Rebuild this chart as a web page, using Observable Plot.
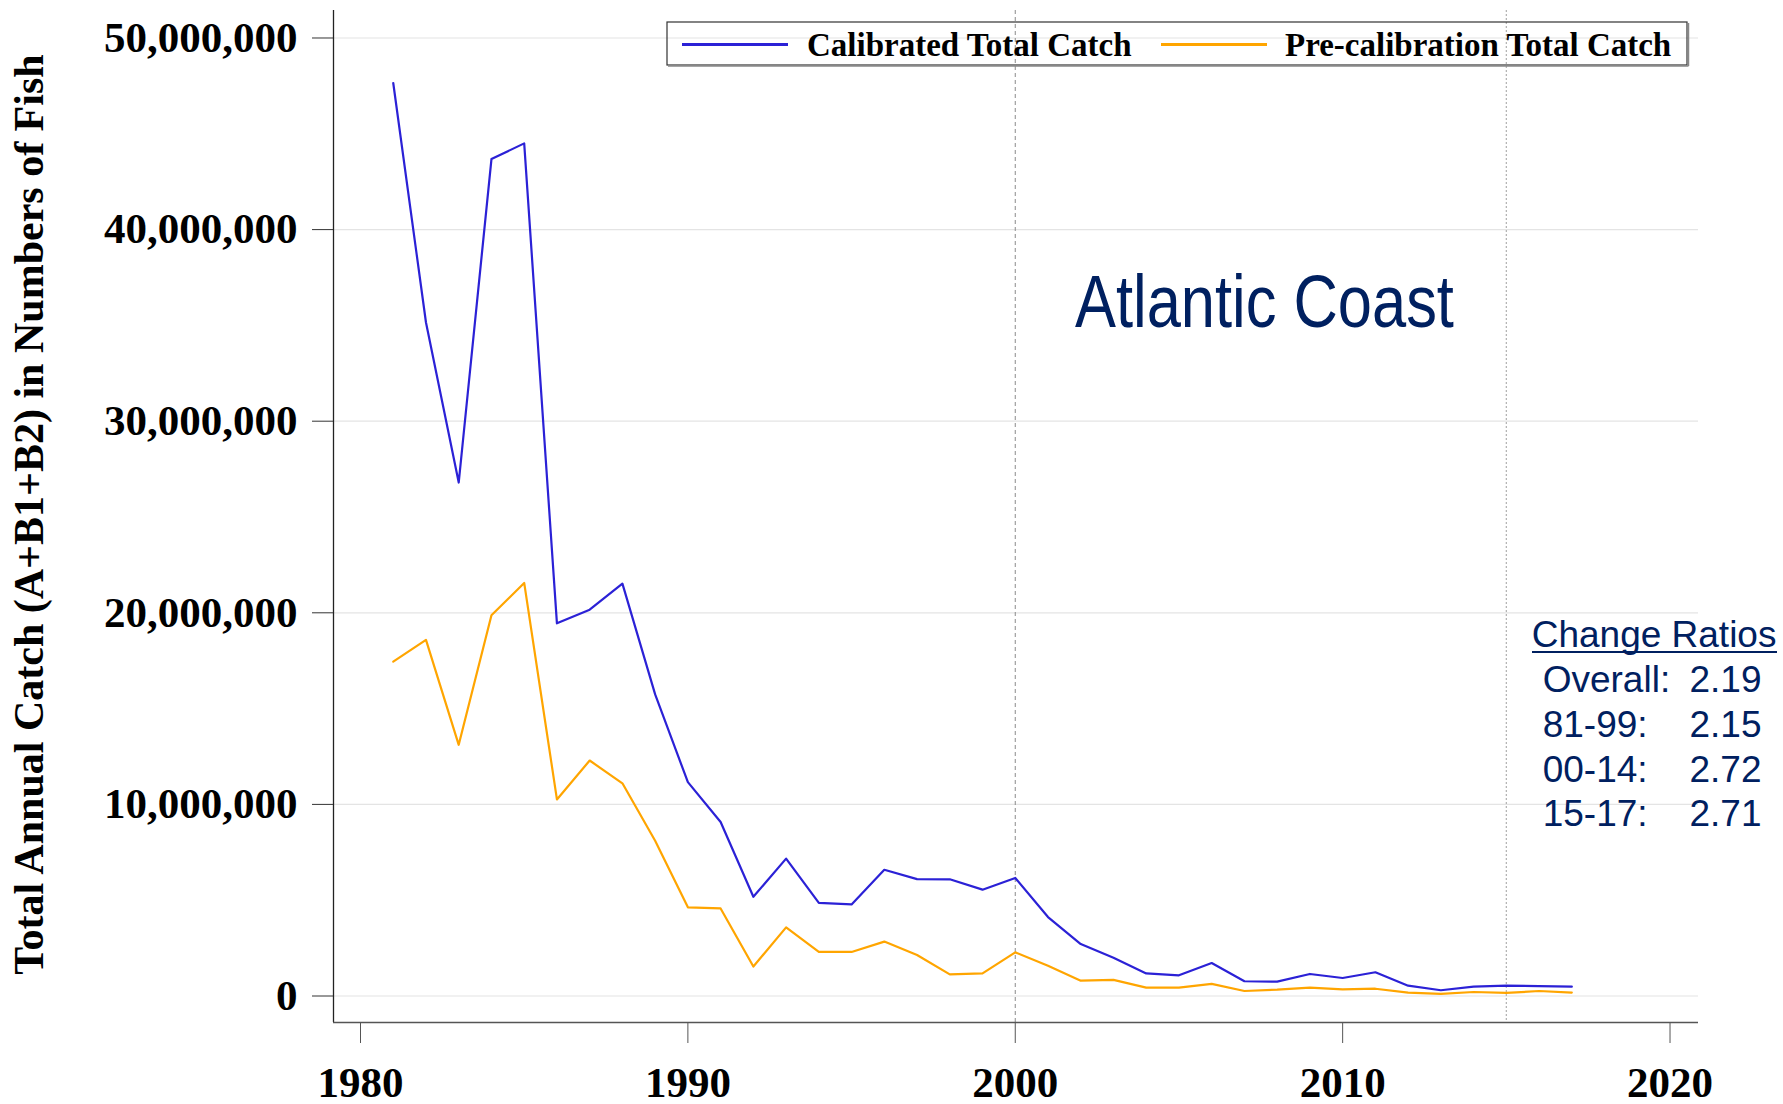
<!DOCTYPE html>
<html><head><meta charset="utf-8">
<script src="https://cdn.jsdelivr.net/npm/d3@7"></script>
<script src="https://cdn.jsdelivr.net/npm/@observablehq/plot@0.6"></script>
<style>body{margin:0;background:#fff}</style>
</head><body><div id="chart"></div>
<script>
const years = [1981,1982,1983,1984,1985,1986,1987,1988,1989,1990,1991,1992,1993,1994,1995,1996,1997,1998,1999,2000,2001,2002,2003,2004,2005,2006,2007,2008,2009,2010,2011,2012,2013,2014,2015,2016,2017];
// values in millions of fish
const calibrated = [47.65,35.15,26.8,43.68,44.5,19.45,20.16,21.52,15.74,11.16,9.08,5.18,7.17,4.86,4.78,6.59,6.10,6.09,5.55,6.16,4.12,2.71,2.0,1.18,1.08,1.72,0.77,0.75,1.15,0.94,1.24,0.54,0.30,0.49,0.54,0.52,0.49];
const precalibration = [17.45,18.59,13.11,19.87,21.56,10.26,12.29,11.1,8.1,4.63,4.57,1.54,3.58,2.30,2.30,2.84,2.14,1.13,1.18,2.28,1.58,0.80,0.84,0.44,0.44,0.63,0.26,0.33,0.44,0.35,0.38,0.18,0.11,0.21,0.16,0.26,0.18];
const seriesNames = ["Calibrated Total Catch","Pre-calibration Total Catch"];
const seriesColors = ["#2b21d6","#ffa500"];
const yTicks = [0,10000000,20000000,30000000,40000000,50000000];
const xTicks = [1980,1990,2000,2010,2020];
const xDomain = [1979.175, 2020.87];
const yDomain = [-1383000, 51435000];
const markerYears = [2000, 2015];
const yTitle = "Total Annual Catch (A+B1+B2) in Numbers of Fish";
const regionTitle = "Atlantic Coast";
const ratioHeading = "Change Ratios";
const ratioLabels = ["Overall:","81-99:","00-14:","15-17:"];
const ratioValues = ["2.19","2.15","2.72","2.71"];

const rows = years.flatMap((yr,i)=>[
  {year:yr, value:calibrated[i]*1e6, series:seriesNames[0]},
  {year:yr, value:precalibration[i]*1e6, series:seriesNames[1]}
]);

const serif = "'Liberation Serif','Times New Roman',serif";
const sans = "'Liberation Sans',Arial,sans-serif";
const navy = "#002060";

const plot = Plot.plot({
  width:1783, height:1104,
  marginLeft:333, marginRight:85, marginTop:10, marginBottom:82,
  style:{fontFamily:serif, fontSize:"43px", fontWeight:"bold", background:"#fff", color:"#000", overflow:"visible"},
  x:{domain:xDomain, label:null},
  y:{domain:yDomain, label:null},
  color:{domain:seriesNames, range:seriesColors},
  marks:[
    Plot.gridY({ticks:yTicks, stroke:"#e4e4e4", strokeOpacity:1, strokeWidth:1.2}),
    Plot.ruleX([markerYears[0]], {stroke:"#8a8a8a", strokeDasharray:"4,3", strokeWidth:1}),
    Plot.ruleX([markerYears[1]], {stroke:"#b0b0b0", strokeDasharray:"2,2", strokeWidth:1.2}),
    Plot.line(rows, {x:"year", y:"value", z:"series", stroke:"series", strokeWidth:2.2}),
    Plot.ruleX([xDomain[0]], {stroke:"#222", strokeWidth:1.3}),
    Plot.ruleY([yDomain[0]], {stroke:"#555", strokeWidth:1.5}),
    Plot.axisY({ticks:yTicks, tickSize:21, tickPadding:15, tickFormat:d3.format(","), label:null, stroke:"#333"}),
    Plot.axisX({ticks:xTicks, tickSize:21, tickPadding:23, tickFormat:d=>String(d), label:null, stroke:"#555"}),
    Plot.text([yTitle], {text:d=>d, frameAnchor:"left", rotate:-90, dx:-303.7, dy:-2, fontSize:42, fontWeight:"bold", fontFamily:serif, fill:"#000", textAnchor:"middle", lineAnchor:"middle"})
  ]
});
document.getElementById("chart").appendChild(plot);

// Legend and annotations
const svg = d3.select(plot);
const g = svg.append("g").attr("class","annotations").attr("text-anchor","start");

// legend box
const lg = g.append("g");
lg.append("rect").attr("x",667).attr("y",22).attr("width",1020).attr("height",43)
  .attr("fill","none").attr("stroke","#333").attr("stroke-width",1.2);
lg.append("line").attr("x1",668).attr("x2",1688.5).attr("y1",66).attr("y2",66).attr("stroke","#888").attr("stroke-width",1.5);
lg.append("line").attr("x1",1688.5).attr("x2",1688.5).attr("y1",23).attr("y2",66).attr("stroke","#888").attr("stroke-width",1.5);
const legendItems = [
  {x1:682, x2:788, tx:807},
  {x1:1161, x2:1267, tx:1285}
];
legendItems.forEach((it,i)=>{
  lg.append("line").attr("x1",it.x1).attr("x2",it.x2).attr("y1",44.5).attr("y2",44.5)
    .attr("stroke",seriesColors[i]).attr("stroke-width",3);
  lg.append("text").attr("x",it.tx).attr("y",56).attr("text-anchor","start").text(seriesNames[i])
    .attr("font-family",serif).attr("font-weight","bold").attr("font-size",33).attr("fill","#000");
});

// region title (condensed)
g.append("text").attr("transform","translate(1075,326.7) scale(0.83,1)").attr("text-anchor","start")
  .attr("font-family",sans).attr("font-weight","normal").attr("font-size",74).attr("fill",navy)
  .text(regionTitle);

// change ratios
const cr = g.append("g").attr("font-family",sans).attr("font-weight","normal").attr("font-size",37).attr("fill",navy).attr("text-anchor","start");
cr.append("text").attr("x",1531.7).attr("y",646.7).text(ratioHeading);
cr.append("line").attr("x1",1532).attr("x2",1777).attr("y1",652).attr("y2",652).attr("stroke",navy).attr("stroke-width",2);
ratioLabels.forEach((lab,i)=>{
  const y = 691.7 + i*44.9;
  cr.append("text").attr("x",1542.7).attr("y",y).text(lab);
  cr.append("text").attr("x",1689.5).attr("y",y).text(ratioValues[i]);
});
</script>
</body></html>
